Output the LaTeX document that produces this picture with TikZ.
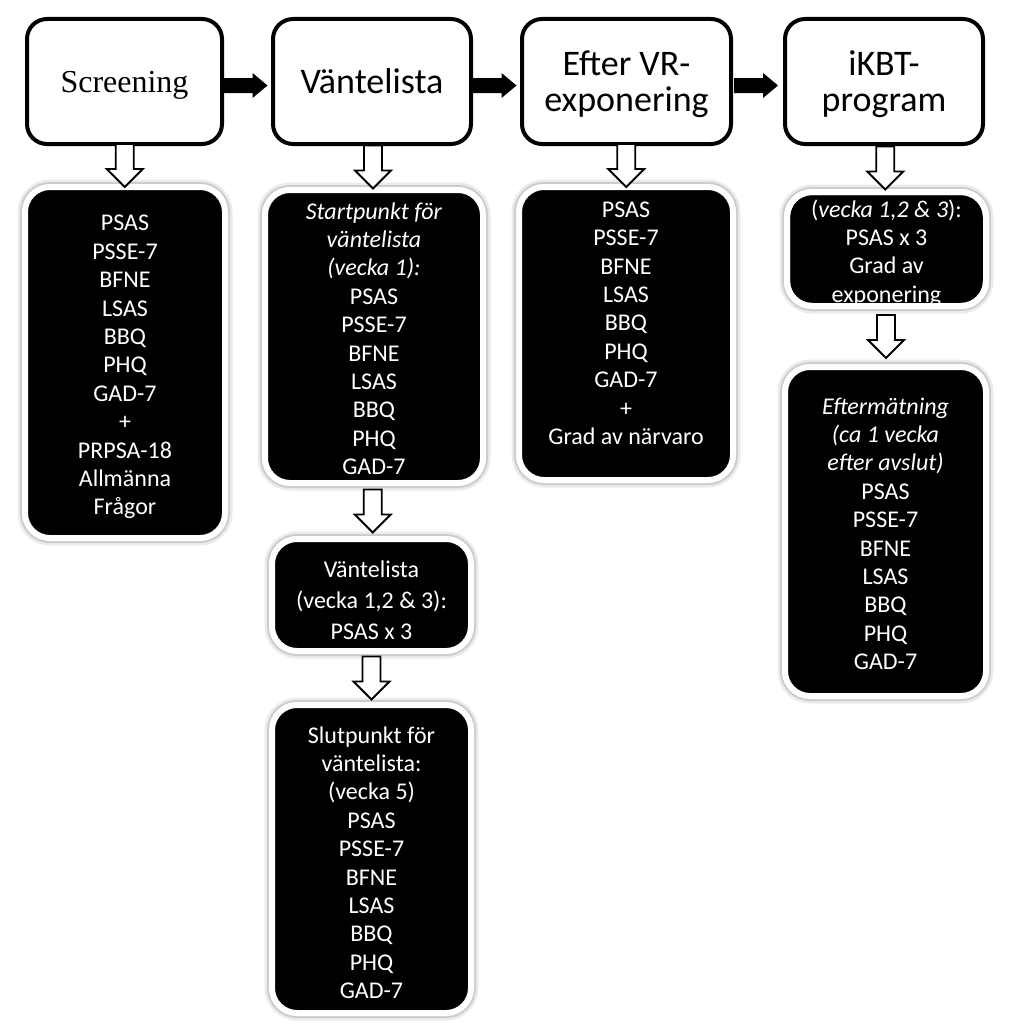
\documentclass[tikz,border=0pt]{standalone}
\usepackage{fontspec}
\setmainfont{Carlito}
\newfontfamily\timesfont{Liberation Serif}
\usetikzlibrary{calc}
\newcommand{\mystack}[2]{\raisebox{#1}[0pt][0pt]{\begin{tabular}{@{}c@{}}#2\end{tabular}}}
\newcommand{\wdarrow}[2]{%
  \draw[warrow] let \p3=($(#1.south)!.5!(#2.north)$) in
    (\x3-9pt,\y3+21.5pt) -- (\x3-9pt,\y3-3.5pt) -- (\x3-18pt,\y3-3.5pt) --
    (\x3,\y3-21.5pt) -- (\x3+18pt,\y3-3.5pt) -- (\x3+9pt,\y3-3.5pt) --
    (\x3+9pt,\y3+21.5pt) -- cycle;}
\newcommand{\kharrow}[2]{%
  \fill[karrow] let \p3=($(#1.east)!.5!(#2.west)$) in
    (\x3-24pt,\y3+3.5pt) -- (\x3+5pt,\y3+3.5pt) -- (\x3+5pt,\y3+8.5pt) --
    (\x3+20pt,\y3-4pt) -- (\x3+5pt,\y3-16.5pt) -- (\x3+5pt,\y3-11.5pt) --
    (\x3-24pt,\y3-11.5pt) -- cycle;}
\begin{document}
\begin{tikzpicture}[x=1pt,y=-1pt,
  hdr/.style={draw=black, line width=4pt, rounded corners=20pt, fill=white,
    align=center, inner sep=0pt, outer sep=0pt, font=\fontsize{36}{36}\selectfont},
  bbox/.style={fill=black, draw=white, line width=6pt, rounded corners=25pt,
    text=white, inner sep=0pt, outer sep=0pt,
    font=\fontsize{24}{28.4}\selectfont,
    preaction={draw=black!8, line width=15pt},
    preaction={draw=black!20, line width=10pt}},
  btext/.style={text=white, align=center, inner sep=0pt, font=\fontsize{24}{28.4}\selectfont},
  warrow/.style={fill=white, draw=black, line width=1.8pt, line join=miter},
  karrow/.style={fill=black}]
\useasboundingbox (0,0) rectangle (1024,1033);

% header boxes
\node[hdr, minimum width=195pt, minimum height=125pt, text depth=-7pt] (h1) at (124.5,81.5)
  {\timesfont\fontsize{32}{36}\selectfont Screening};
\node[hdr, minimum width=198pt, minimum height=125pt, text depth=-3pt] (h2) at (372,81.5) {Väntelista};
\node[hdr, minimum width=209pt, minimum height=125pt, text depth=-4pt] (h3) at (626.5,81.5) {Efter VR-\\exponering};
\node[hdr, minimum width=198pt, minimum height=125pt, text depth=-5pt] (h4) at (884,81.5) {iKBT-\\program};

% black boxes
\node[bbox, minimum width=200pt, minimum height=351pt] (b1) at (125,362.5)
  {\mystack{-11pt}{PSAS\\PSSE-7\\BFNE\\LSAS\\BBQ\\PHQ\\GAD-7\\+\\PRPSA-18\\Allmänna\\Frågor}};
\node[bbox, minimum width=218pt, minimum height=293pt] (b2) at (374,336.5)
  {\mystack{-11pt}{\textit{Startpunkt för}\\\textit{väntelista}\\\textit{(vecka 1):}\\PSAS\\PSSE-7\\BFNE\\LSAS\\BBQ\\PHQ\\GAD-7}};
\node[bbox, minimum width=214pt, minimum height=293pt] (b3) at (626,333.5)
  {\mystack{2pt}{PSAS\\PSSE-7\\BFNE\\LSAS\\BBQ\\PHQ\\GAD-7\\+\\Grad av närvaro}};
\node[bbox, minimum width=199pt, minimum height=114pt] (b4) at (886.5,249) {};
\node[btext] (b4t) at (886.5,253)
  {(\textit{vecka 1,2 \& 3}):\\PSAS x 3\\Grad av\\exponering};
\draw[white, line width=6pt, rounded corners=25pt] (b4.south west) rectangle (b4.north east);
\node[bbox, minimum width=201pt, minimum height=329pt] (b5) at (885.5,531.5)
  {\mystack{-11pt}{\textit{Eftermätning}\\\textit{(ca 1 vecka}\\\textit{efter avslut)}\\PSAS\\PSSE-7\\BFNE\\LSAS\\BBQ\\PHQ\\GAD-7}};
\node[bbox, minimum width=199pt, minimum height=112pt, font=\fontsize{24}{31}\selectfont] (b6) at (371.5,595)
  {\mystack{-13.5pt}{Väntelista\\(vecka 1,2 \& 3):\\PSAS x 3}};
\node[bbox, minimum width=199pt, minimum height=308pt] (b7) at (371.5,859)
  {\mystack{-12.5pt}{Slutpunkt för\\väntelista:\\(vecka 5)\\PSAS\\PSSE-7\\BFNE\\LSAS\\BBQ\\PHQ\\GAD-7}};

% black arrows between headers
\kharrow{h1}{h2}
\kharrow{h2}{h3}
\kharrow{h3}{h4}

% white block arrows
\wdarrow{h1}{b1}
\wdarrow{h2}{b2}
\wdarrow{h3}{b3}
\wdarrow{h4}{b4}
\wdarrow{b4}{b5}
\wdarrow{b2}{b6}
\wdarrow{b6}{b7}
\end{tikzpicture}
\end{document}
